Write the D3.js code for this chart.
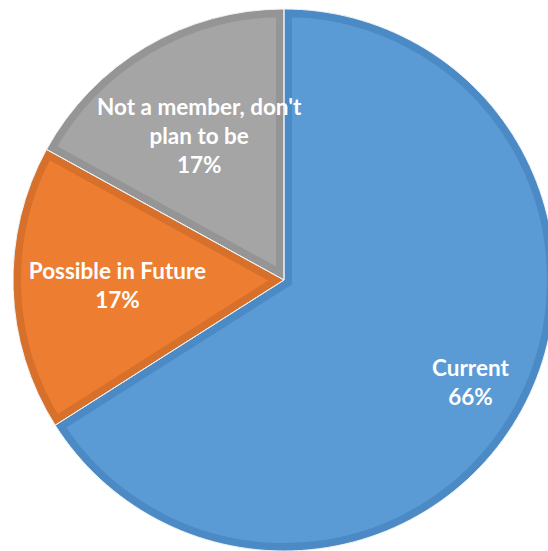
<!DOCTYPE html>
<html>
<head>
<meta charset="utf-8">
<script src="https://d3js.org/d3.v7.min.js"></script>
<style>
  body { margin: 0; background: #fff; }
  svg { display: block; }
  .lbl { font-family: Lato, "Open Sans", sans-serif; font-weight: bold; fill: #fff; }
</style>
</head>
<body>
<div id="chart"></div>
<script>
var categories = ["Current", "Possible in Future", "Not a member, don't plan to be"];
var values = [66, 17, 17];
var labelLines = [["Current"], ["Possible in Future"], ["Not a member, don't", "plan to be"]];
var fills = ["#5B9BD5", "#ED7D31", "#A5A5A5"];
var borders = ["#4B8AC5", "#D7702A", "#959595"];

var width = 548, height = 551;
var cx = 284, cy = 280, radius = 271;

var svg = d3.select("#chart").append("svg")
    .attr("width", width)
    .attr("height", height);

var data = categories.map(function(c, i) {
    return { name: c, value: values[i], lines: labelLines[i], i: i };
});

var pie = d3.pie()
    .sort(null)
    .value(function(d) { return d.value; });

var arc = d3.arc().innerRadius(0).outerRadius(radius);

var arcs = pie(data);
var total = d3.sum(values);

var g = svg.append("g").attr("transform", "translate(" + cx + "," + cy + ")");
var defs = svg.append("defs");

defs.selectAll("clipPath")
    .data(arcs)
    .enter()
    .append("clipPath")
    .attr("id", function(d) { return "clip" + d.data.i; })
    .append("path")
    .attr("d", arc);

// slices with inset darker border
g.selectAll("path.slice")
    .data(arcs)
    .enter()
    .append("path")
    .attr("class", "slice")
    .attr("d", arc)
    .attr("fill", function(d) { return fills[d.data.i]; })
    .attr("stroke", function(d) { return borders[d.data.i]; })
    .attr("stroke-width", 16)
    .attr("stroke-linejoin", "miter")
    .attr("clip-path", function(d) { return "url(#clip" + d.data.i + ")"; });

// thin light separators
g.selectAll("path.sep")
    .data(arcs)
    .enter()
    .append("path")
    .attr("class", "sep")
    .attr("d", arc)
    .attr("fill", "none")
    .attr("stroke", "#eef3f8")
    .attr("stroke-width", 1);

// labels (best-fit style: big slice further out)
var fontSize = 22.5, lineH = 29;
g.selectAll("text.lbl")
    .data(arcs)
    .enter()
    .append("text")
    .attr("class", "lbl")
    .attr("text-anchor", "middle")
    .style("font-size", fontSize + "px")
    .each(function(d) {
        var frac = (d.endAngle - d.startAngle) / (2 * Math.PI);
        var r = frac > 0.5 ? radius * 0.785 : radius * 0.615;
        var c = d3.arc().innerRadius(r).outerRadius(r).centroid(d);
        var lines = d.data.lines.concat([Math.round(d.data.value / total * 100) + "%"]);
        var top = c[1] - (lines.length - 1) * lineH / 2 + fontSize * 0.35;
        var t = d3.select(this);
        lines.forEach(function(s, k) {
            t.append("tspan")
                .attr("x", c[0])
                .attr("y", top + k * lineH)
                .text(s);
        });
    });
</script>
</body>
</html>
